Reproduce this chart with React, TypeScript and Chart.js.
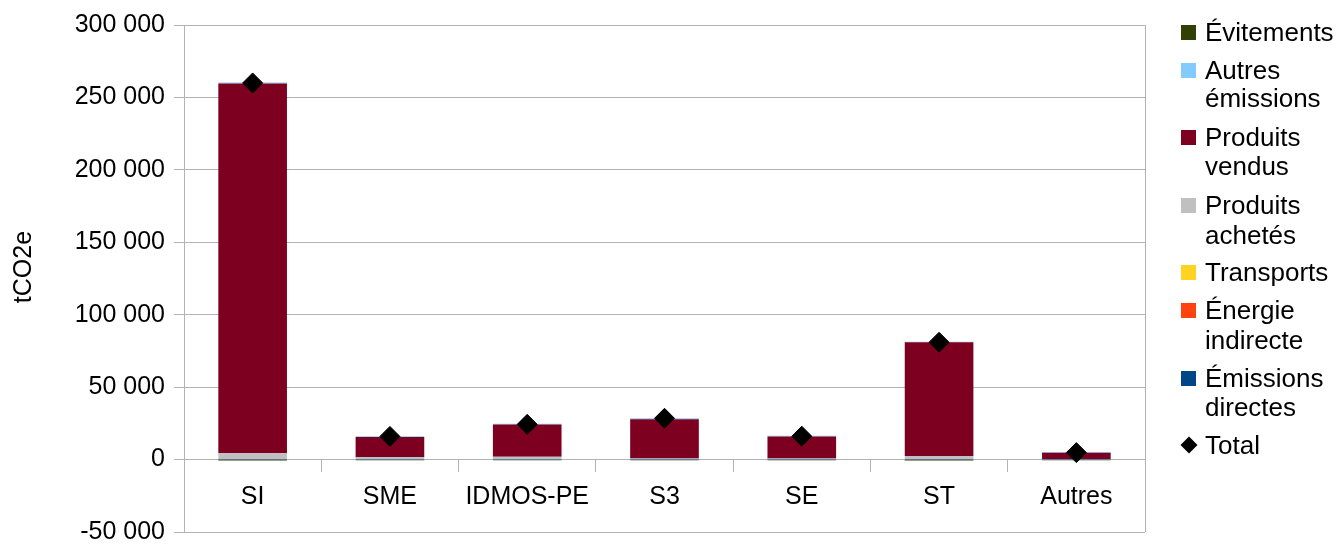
import React, { useEffect, useRef } from "react";
import { Chart, registerables } from "chart.js";
Chart.register(...registerables);

const categories = ["SI", "SME", "IDMOS-PE", "S3", "SE", "ST", "Autres"];
const emissionsDirectes = [120, 60, 60, 40, 40, 100, 20];
const energieIndirecte = [80, 40, 50, 30, 30, 60, 15];
const transports = [60, 30, 40, 20, 20, 50, 10];
const produitsAchetes = [4100, 1700, 1800, 600, 600, 2200, 400];
const produitsVendus = [255200, 13800, 22200, 27200, 15200, 78500, 4300];
const autresEmissions = [800, 500, 500, 600, 500, 400, 500];
const evitements = [-700, -500, -500, -500, -500, -600, -500];
const total = [260000, 16000, 24300, 28500, 16100, 81000, 4800];
const yTicks = [-50000, 0, 50000, 100000, 150000, 200000, 250000, 300000];

const FONT = "'Liberation Sans', Arial, sans-serif";
const GRID = "#b3b3b3";

const legendItems = [
  { color: "#314004", lines: ["Évitements"], ys: [32] },
  { color: "#83CAFF", lines: ["Autres", "émissions"], ys: [70, 98] },
  { color: "#7E0021", lines: ["Produits", "vendus"], ys: [137, 166] },
  { color: "#C0C0C0", lines: ["Produits", "achetés"], ys: [205, 235] },
  { color: "#FFD320", lines: ["Transports"], ys: [272] },
  { color: "#FF420E", lines: ["Énergie", "indirecte"], ys: [310, 340] },
  { color: "#004586", lines: ["Émissions", "directes"], ys: [378, 407] },
];

const fmt = (v: number) => {
  const s = Math.abs(v).toString().replace(/\B(?=(\d{3})+(?!\d))/g, " ");
  return (v < 0 ? "-" : "") + s;
};

const rightBorder = {
  id: "rightBorder",
  afterDraw(c: any) {
    const { ctx, chartArea } = c;
    ctx.save();
    ctx.strokeStyle = GRID;
    ctx.lineWidth = 1;
    const x = Math.round(chartArea.right) + 0.5;
    ctx.beginPath();
    ctx.moveTo(x, chartArea.top);
    ctx.lineTo(x, chartArea.bottom);
    ctx.stroke();
    ctx.restore();
  },
};

export default function App() {
  const ref = useRef<HTMLCanvasElement>(null);
  useEffect(() => {
    document.body.style.margin = "0";
    const font = { family: FONT, size: 25, lineHeight: 1 };
    const mk = (label: string, data: number[], color: string) => ({
      type: "bar" as const,
      label,
      data,
      backgroundColor: color,
      borderWidth: 0,
      barPercentage: 0.5,
      categoryPercentage: 1.0,
      stack: "s",
      order: 1,
    });
    const chart = new Chart(ref.current!, {
      type: "bar",
      data: {
        labels: categories,
        datasets: [
          mk("Émissions directes", emissionsDirectes, "#004586"),
          mk("Énergie indirecte", energieIndirecte, "#FF420E"),
          mk("Transports", transports, "#FFD320"),
          mk("Produits achetés", produitsAchetes, "#C0C0C0"),
          mk("Produits vendus", produitsVendus, "#7E0021"),
          mk("Autres émissions", autresEmissions, "#83CAFF"),
          mk("Évitements", evitements, "#314004"),
          {
            type: "line" as const,
            label: "Total",
            data: total,
            showLine: false,
            pointStyle: "rectRot",
            pointRadius: 10,
            backgroundColor: "#000",
            borderColor: "#000",
            borderWidth: 1,
            stack: "total",
            order: 0,
          } as any,
        ],
      },
      options: {
        responsive: false,
        animation: false,
        layout: { padding: { left: 3, right: 195, top: 25, bottom: 13 } },
        plugins: { legend: { display: false }, tooltip: { enabled: false } },
        scales: {
          x: {
            stacked: true,
            position: { y: 0 } as any,
            grid: { drawOnChartArea: false, tickLength: 12, color: GRID, offset: true },
            border: { color: GRID },
            ticks: { font, color: "#000", padding: 13 },
          },
          y: {
            stacked: true,
            min: -50000,
            max: 300000,
            afterBuildTicks: (s: any) => {
              s.ticks = yTicks.map((v) => ({ value: v }));
            },
            ticks: { font, color: "#000", padding: 9, callback: (v: any) => fmt(Number(v)) },
            grid: { color: GRID, tickLength: 10 },
            border: { color: GRID },
            title: { display: false },
            afterFit: (s: any) => {
              s.width = 181;
              s.paddingTop = 0;
              s.paddingBottom = 0;
            },
          },
        },
      } as any,
      plugins: [rightBorder],
    });
    return () => chart.destroy();
  }, []);

  const legendText = { position: "absolute" as const, left: 1205, height: 30, lineHeight: "30px", fontSize: 26, color: "#000", whiteSpace: "nowrap" as const };

  return (
    <div style={{ position: "absolute", left: 0, top: 0, width: 1340, height: 545, background: "#fff", fontFamily: FONT }}>
      <canvas ref={ref} width={1340} height={545} style={{ position: "absolute", left: 0, top: 0, width: 1340, height: 545 }} />
      <div style={{ position: "absolute", left: 22, top: 267, width: 0, height: 0 }}>
        <div style={{ position: "absolute", left: -60, top: -15, width: 120, height: 30, lineHeight: "30px", textAlign: "center", fontSize: 25, color: "#000", transform: "rotate(-90deg)" }}>
          tCO2e
        </div>
      </div>
      {legendItems.map((it, i) => (
        <React.Fragment key={i}>
          <div style={{ position: "absolute", left: 1181, top: it.ys[0] - 7.5, width: 15, height: 15, background: it.color }} />
          {it.lines.map((t, j) => (
            <div key={j} style={{ ...legendText, top: it.ys[j] - 15 }}>
              {t}
            </div>
          ))}
        </React.Fragment>
      ))}
      <div style={{ position: "absolute", left: 1183, top: 439, width: 12, height: 12, background: "#000", transform: "rotate(45deg)" }} />
      <div style={{ ...legendText, top: 430 }}>Total</div>
    </div>
  );
}
